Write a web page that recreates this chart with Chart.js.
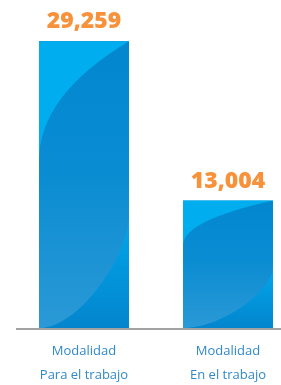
<!DOCTYPE html>
<html>
<head>
<meta charset="utf-8">
<script src="https://cdn.jsdelivr.net/npm/chart.js@4"></script>
<style>
  html, body { margin: 0; padding: 0; background: #ffffff; }
  #wrap { position: relative; width: 281px; height: 385px; }
</style>
</head>
<body>
<div id="wrap"><canvas id="c"></canvas></div>
<script>
// ---- data ----
const categoryLines = [["Modalidad", "Para el trabajo"], ["Modalidad", "En el trabajo"]];
const values = [29259, 13004];
const valueLabels = ["29,259", "13,004"];

// ---- styles ----
const LABEL_COLOR = "#f7923a";
const CAT_COLOR = "#3189c8";

const barSkin = {
  id: "barSkin",
  beforeDatasetsDraw(chart) {
    const ctx = chart.ctx;
    const y0 = chart.scales.y.getPixelForValue(0);
    ctx.save();
    ctx.strokeStyle = "#a3a3a3";
    ctx.lineWidth = 2;
    ctx.beginPath();
    ctx.moveTo(16, y0 + 1);
    ctx.lineTo(chart.width, y0 + 1);
    ctx.stroke();
    ctx.restore();
  },
  afterDatasetsDraw(chart) {
    const ctx = chart.ctx;
    const meta = chart.getDatasetMeta(0);
    meta.data.forEach((bar, i) => {
      const p = bar.getProps(["x", "y", "base", "width"], true);
      const W = p.width, L = p.x - W / 2, R = p.x + W / 2, T = p.y, B = p.base, H = B - T;
      ctx.save();
      ctx.beginPath();
      ctx.rect(L, T, W, H);
      ctx.clip();
      // main body
      let g = ctx.createLinearGradient(0, T, 0, B);
      g.addColorStop(0, "#0287cf");
      g.addColorStop(0.45, "#098cd2");
      g.addColorStop(1, "#2b99d6");
      ctx.fillStyle = g;
      ctx.fillRect(L, T, W, H);
      // upper light region
      const d = Math.max(20, 0.47 * H - 15);
      ctx.beginPath();
      ctx.moveTo(L, T);
      ctx.lineTo(R, T);
      ctx.quadraticCurveTo(L, T + 0.45 * d, L, T + d);
      ctx.closePath();
      ctx.fillStyle = "#00adee";
      ctx.fill();
      // lower-right swoosh
      const ry = 0.33 * H + 18;
      ctx.beginPath();
      ctx.moveTo(R, B - ry);
      ctx.bezierCurveTo(R, B - ry + 0.35 * ry, L + 0.45 * W, B, L, B);
      ctx.lineTo(R, B);
      ctx.closePath();
      g = ctx.createLinearGradient(0, B - ry, 0, B);
      g.addColorStop(0, "#01a7ea");
      g.addColorStop(1, "#0385cd");
      ctx.fillStyle = g;
      ctx.fill();
      ctx.restore();
      // value label
      ctx.save();
      ctx.fillStyle = LABEL_COLOR;
      ctx.font = "800 23px 'Open Sans'";
      ctx.textAlign = "center";
      ctx.textBaseline = "alphabetic";
      ctx.fillText(valueLabels[i], p.x, T - 13);
      ctx.restore();
    });
  }
};

new Chart(document.getElementById("c"), {
  type: "bar",
  data: {
    labels: categoryLines,
    datasets: [{
      data: values,
      backgroundColor: "#00adee",
      borderWidth: 0,
      categoryPercentage: 1,
      barPercentage: 0.625,
      clip: false
    }]
  },
  options: {
    responsive: true,
    maintainAspectRatio: false,
    animation: false,
    events: [],
    layout: { padding: { left: 84, right: 53, top: 34, bottom: 0 } },
    plugins: { legend: { display: false }, tooltip: { enabled: false } },
    scales: {
      y: { display: false, min: 0, max: 30000 },
      x: {
        offset: false,
        grid: { display: false, drawTicks: false },
        border: { display: false },
        ticks: {
          color: CAT_COLOR,
          font: { family: "'Open Sans'", size: 13, lineHeight: "24px" },
          padding: 11,
          maxRotation: 0,
          autoSkip: false
        },
        afterFit(s) { s.height = 57; }
      }
    }
  },
  plugins: [barSkin]
});
</script>
</body>
</html>
